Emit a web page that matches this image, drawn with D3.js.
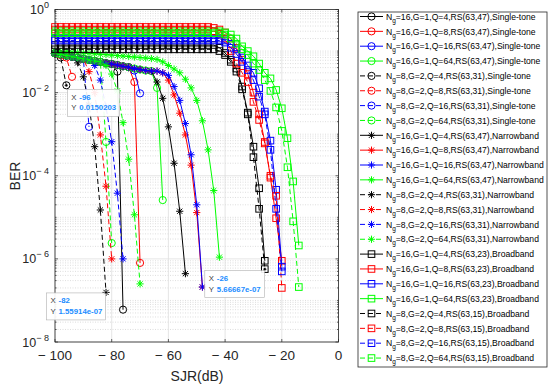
<!DOCTYPE html>
<html>
<head>
<meta charset="utf-8">
<script src="https://cdn.jsdelivr.net/npm/d3@7"></script>
<style>
body { margin: 0; background: #fff; }
svg { font-family: "Liberation Sans", Arial, sans-serif; }
</style>
</head>
<body>
<svg id="chart" width="550" height="388"></svg>
<script>
// SJR grid in dB (every series starts at -100 and runs as long as its BER array)
const sjr = [-100,-98,-96,-94,-92,-90,-88,-86,-84,-82,-80,-78,-76,-74,-72,-70,-68,-66,-64,-62,
             -60,-58,-56,-54,-52,-50,-48,-46,-44,-42,-40,-38,-36,-34,-32,-30,-28,-26,-24,-22,
             -20,-18,-16,-14];

// Single-tone jamming
const st16_q4  = [0.088,0.083,0.078,0.073,0.069,0.065,0.061,0.058,0.055,0.051,0.049,0.032,6e-8];
const st16_q8  = [0.088,0.083,0.078,0.073,0.069,0.065,0.061,0.058,0.055,0.051,0.049,0.046,0.043,0.041,0.018,8e-7];
const st16_q16 = [0.088,0.083,0.078,0.073,0.069,0.065,0.061,0.058,0.055,0.051,0.049,0.046,0.043,0.041,0.034,0.0096];
const st16_q64 = [0.088,0.083,0.078,0.073,0.069,0.065,0.061,0.058,0.055,0.051,0.049,0.046,0.043,0.041,0.038,0.036,0.034,0.033,0.013,2.6e-5];
const st8_q4   = [0.088,0.07,0.0150203];
const st8_q8   = [0.088,0.08,0.07,0.024];
const st8_q16  = [0.088,0.083,0.078,0.073,0.069,0.065,1.5e-3];
const st8_q64  = [0.088,0.083,0.078,0.073,0.069,0.065,0.061,0.058,0.055,6.5e-4,2.4e-6];

// Narrowband jamming
const nb16_q4  = [0.088,0.083,0.078,0.073,0.069,0.065,0.061,0.058,0.055,0.051,0.049,0.046,0.043,0.041,0.038,0.036,0.034,0.033,
                  0.018,7.3e-3,1.5e-3,2e-4,1.4e-5,4.4e-7];
const nb16_q8  = [0.088,0.083,0.078,0.073,0.069,0.065,0.061,0.058,0.055,0.051,0.049,0.046,0.043,0.041,0.038,0.036,0.034,0.033,
                  0.033,0.03,0.02,0.0088,3.2e-3,9.6e-4,1.8e-4,1.3e-5,2.1e-7];
const nb16_q16 = [0.088,0.083,0.078,0.073,0.069,0.065,0.061,0.058,0.055,0.051,0.049,0.046,0.043,0.041,0.038,0.036,0.034,0.033,
                  0.033,0.03,0.026,0.014,6.5e-3,1.8e-3,3.2e-4,2e-5,2.1e-7];
const nb16_q64 = [0.1,0.098,0.096,0.094,0.092,0.09,0.088,0.086,0.084,0.082,0.08,0.078,0.076,0.074,0.072,0.07,0.068,0.066,
                  0.063,0.055,0.045,0.037,0.03,0.021,0.013,6.5e-3,2.1e-3,4.2e-4,4.4e-5,1.1e-6];
const nb8_q4   = [0.088,0.083,0.078,0.073,0.052,0.024,5e-3,5e-4,1.5e-5,1.55914e-7];
const nb8_q8   = [0.088,0.083,0.078,0.073,0.069,0.065,0.032,0.01,9.6e-4,5.6e-5,1e-6];
const nb8_q16  = [0.088,0.083,0.078,0.073,0.069,0.065,0.061,0.045,0.02,4.5e-3,6.6e-4,3.8e-5,1e-6];
const nb8_q64  = [0.088,0.083,0.078,0.073,0.069,0.065,0.061,0.058,0.055,0.045,0.028,0.011,1.9e-3,2.5e-4,1.15e-5,2.5e-7];

// Broadband jamming
const bb16_q4  = [0.14,0.14,0.14,0.14,0.14,0.14,0.14,0.14,0.14,0.14,
                  0.14,0.14,0.14,0.14,0.14,0.14,0.14,0.14,0.14,0.14,
                  0.14,0.14,0.14,0.14,0.14,0.14,0.14,0.14,0.14,
                  0.12,0.09,0.062,0.038,0.014,3.3e-3,5e-4,5e-5,9e-7];
const bb16_q8  = [0.38,0.38,0.38,0.38,0.38,0.38,0.38,0.38,0.38,0.38,
                  0.38,0.38,0.38,0.38,0.38,0.38,0.38,0.38,0.38,0.38,
                  0.38,0.38,0.38,0.38,0.38,0.38,0.38,0.38,
                  0.36,0.33,0.28,0.2,0.12,0.062,0.028,0.01,3e-3,6.5e-4,9e-5,9.5e-6,9e-7];
const bb16_q16 = [0.2,0.2,0.2,0.2,0.2,0.2,0.2,0.2,0.2,0.2,
                  0.2,0.2,0.2,0.2,0.2,0.2,0.2,0.2,0.2,0.2,
                  0.2,0.2,0.2,0.2,0.2,0.2,0.2,0.2,0.2,0.2,
                  0.18,0.15,0.11,0.07,0.045,0.03,0.0127,3.5e-3,7e-4,4.6e-5,6.5e-7];
const bb16_q64 = [0.3,0.3,0.3,0.3,0.3,0.3,0.3,0.3,0.3,0.3,
                  0.3,0.3,0.3,0.3,0.3,0.3,0.3,0.3,0.3,0.3,
                  0.3,0.3,0.3,0.3,0.3,0.3,0.3,0.3,0.3,0.3,
                  0.28,0.25,0.2,0.13,0.1,0.075,0.05,0.03,0.022,0.0116,4.2e-3,8e-4,7.3e-5,2.1e-6];
const bb8_q4   = [0.11,0.11,0.11,0.11,0.11,0.11,0.11,0.11,0.11,0.11,
                  0.11,0.11,0.11,0.11,0.11,0.11,0.11,0.11,0.11,0.11,
                  0.11,0.11,0.11,0.11,0.11,0.11,0.11,0.11,0.11,
                  0.1,0.08,0.055,0.032,0.012,3e-3,2.8e-4,1.6e-5,5.66667e-7];
const bb8_q8   = [0.33,0.33,0.33,0.33,0.33,0.33,0.33,0.33,0.33,0.33,
                  0.33,0.33,0.33,0.33,0.33,0.33,0.33,0.33,0.33,0.33,
                  0.33,0.33,0.33,0.33,0.33,0.33,0.33,0.33,
                  0.3,0.26,0.2,0.1,0.05,0.03,0.018,6e-3,2.2e-3,6e-4,1e-4,3.3e-5,2e-7];
const bb8_q16  = [0.18,0.18,0.18,0.18,0.18,0.18,0.18,0.18,0.18,0.18,
                  0.18,0.18,0.18,0.18,0.18,0.18,0.18,0.18,0.18,0.18,
                  0.18,0.18,0.18,0.18,0.18,0.18,0.18,0.18,0.18,0.18,
                  0.16,0.12,0.085,0.055,0.035,0.02,8e-3,3e-3,4.2e-4,1.6e-5,5e-7];
const bb8_q64  = [0.27,0.27,0.27,0.27,0.27,0.27,0.27,0.27,0.27,0.27,
                  0.27,0.27,0.27,0.27,0.27,0.27,0.27,0.27,0.27,0.27,
                  0.27,0.27,0.27,0.27,0.27,0.27,0.27,0.27,0.27,0.27,
                  0.25,0.2,0.15,0.11,0.08,0.05,0.035,0.02,0.011,4.4e-3,1.2e-3,1.6e-4,8e-6,2.1e-7];

// legend labels (text after "N" with subscript "g")
const labels = [
  "=16,G=1,Q=4,RS(63,47),Single-tone", "=16,G=1,Q=8,RS(63,47),Single-tone",
  "=16,G=1,Q=16,RS(63,47),Single-tone", "=16,G=1,Q=64,RS(63,47),Single-tone",
  "=8,G=2,Q=4,RS(63,31),Single-tone", "=8,G=2,Q=8,RS(63,31),Single-tone",
  "=8,G=2,Q=16,RS(63,31),Single-tone", "=8,G=2,Q=64,RS(63,31),Single-tone",
  "=16,G=1,Q=4,RS(63,47),Narrowband", "=16,G=1,Q=8,RS(63,47),Narrowband",
  "=16,G=1,Q=16,RS(63,47),Narrowband", "=16,G=1,Q=64,RS(63,47),Narrowband",
  "=8,G=2,Q=4,RS(63,31),Narrowband", "=8,G=2,Q=8,RS(63,31),Narrowband",
  "=8,G=2,Q=16,RS(63,31),Narrowband", "=8,G=2,Q=64,RS(63,31),Narrowband",
  "=16,G=1,Q=4,RS(63,23),Broadband", "=16,G=1,Q=8,RS(63,23),Broadband",
  "=16,G=1,Q=16,RS(63,23),Broadband", "=16,G=1,Q=64,RS(63,23),Broadband",
  "=8,G=2,Q=4,RS(63,15),Broadband", "=8,G=2,Q=8,RS(63,15),Broadband",
  "=8,G=2,Q=16,RS(63,15),Broadband", "=8,G=2,Q=64,RS(63,15),Broadband"
];

// data tips shown in the figure
const tipX = [-96, -82, -26];
const tipY = [0.0150203, 1.55914e-07, 5.66667e-07];
const tipYText = ["0.0150203", "1.55914e-07", "5.66667e-07"];

const xTicks = [-100, -80, -60, -40, -20, 0];
const yTickExp = [0, -2, -4, -6, -8];

const colors = ["#000000", "#ff0000", "#0000ff", "#00ff00"];
const berSets = [st16_q4, st16_q8, st16_q16, st16_q64, st8_q4, st8_q8, st8_q16, st8_q64,
                 nb16_q4, nb16_q8, nb16_q16, nb16_q64, nb8_q4, nb8_q8, nb8_q16, nb8_q64,
                 bb16_q4, bb16_q8, bb16_q16, bb16_q64, bb8_q4, bb8_q8, bb8_q16, bb8_q64];
const markerTypes = ["circle", "star", "square"];

const series = berSets.map((ber, i) => ({
  label: labels[i],
  color: colors[i % 4],
  dashed: Math.floor(i / 4) % 2 === 1,
  marker: markerTypes[Math.floor(i / 8)],
  points: ber.map((b, j) => ({ x: sjr[j], y: b }))
}));

const svg = d3.select("#chart");
const plotL = 55, plotR = 338.5, plotT = 9.5, plotB = 342;

const x = d3.scaleLinear().domain([-100, 0]).range([plotL, plotR]);
const y = d3.scaleLog().domain([1e-8, 1]).range([plotB, plotT]);

// grid
const grid = svg.append("g");
for (let e = -8; e < 0; e++) {
  for (let k = 1; k <= 9; k++) {
    const v = k * Math.pow(10, e);
    if (k === 1 && e % 2 === 0) continue;
    grid.append("line")
      .attr("x1", plotL).attr("x2", plotR)
      .attr("y1", y(v)).attr("y2", y(v))
      .attr("stroke", "#c8c8c8").attr("stroke-width", 0.6)
      .attr("stroke-dasharray", "1,1.5");
  }
}
yTickExp.forEach(e => {
  grid.append("line")
    .attr("x1", plotL).attr("x2", plotR)
    .attr("y1", y(Math.pow(10, e))).attr("y2", y(Math.pow(10, e)))
    .attr("stroke", "#dedede").attr("stroke-width", 0.8);
});
xTicks.forEach(t => {
  grid.append("line")
    .attr("x1", x(t)).attr("x2", x(t))
    .attr("y1", plotT).attr("y2", plotB)
    .attr("stroke", "#dedede").attr("stroke-width", 0.8);
});

// curves
const line = d3.line().x(d => x(d.x)).y(d => y(d.y));
const starPath = "M-3.6,0L3.6,0M0,-3.6L0,3.6M-2.6,-2.6L2.6,2.6M-2.6,2.6L2.6,-2.6";

function drawMarker(g, type, color) {
  if (type === "circle") {
    g.append("circle").attr("r", 3.6).attr("fill", "none")
      .attr("stroke", color).attr("stroke-width", 1);
  } else if (type === "square") {
    g.append("rect").attr("x", -3.3).attr("y", -3.3).attr("width", 6.6).attr("height", 6.6)
      .attr("fill", "none").attr("stroke", color).attr("stroke-width", 1);
  } else {
    g.append("path").attr("d", starPath).attr("fill", "none")
      .attr("stroke", color).attr("stroke-width", 1);
  }
}

const plot = svg.append("g");
series.forEach(s => {
  const g = plot.append("g");
  g.append("path")
    .attr("d", line(s.points))
    .attr("fill", "none")
    .attr("stroke", s.color)
    .attr("stroke-width", 1)
    .attr("stroke-dasharray", s.dashed ? "5,3" : null);
  s.points.forEach(p => {
    const m = g.append("g").attr("transform", `translate(${x(p.x)},${y(p.y)})`);
    drawMarker(m, s.marker, s.color);
  });
});

// frame and ticks
const axisColor = "#262626";
svg.append("rect")
  .attr("x", plotL).attr("y", plotT)
  .attr("width", plotR - plotL).attr("height", plotB - plotT)
  .attr("fill", "none").attr("stroke", axisColor).attr("stroke-width", 0.8);

const ticks = svg.append("g").attr("stroke", axisColor).attr("stroke-width", 0.7);
xTicks.forEach(t => {
  ticks.append("line").attr("x1", x(t)).attr("x2", x(t)).attr("y1", plotB).attr("y2", plotB - 3);
  ticks.append("line").attr("x1", x(t)).attr("x2", x(t)).attr("y1", plotT).attr("y2", plotT + 3);
});
for (let e = -8; e <= 0; e++) {
  for (let k = 1; k <= 9; k++) {
    if (e === 0 && k > 1) continue;
    const v = k * Math.pow(10, e);
    const len = (k === 1 && e % 2 === 0) ? 3 : 1.6;
    ticks.append("line").attr("x1", plotL).attr("x2", plotL + len).attr("y1", y(v)).attr("y2", y(v));
    ticks.append("line").attr("x1", plotR).attr("x2", plotR - len).attr("y1", y(v)).attr("y2", y(v));
  }
}

// tick labels
xTicks.forEach(t => {
  svg.append("text")
    .attr("x", x(t)).attr("y", 360)
    .attr("text-anchor", "middle")
    .attr("font-size", 13.5).attr("fill", axisColor)
    .text(t < 0 ? "\u2212 " + Math.abs(t) : String(t));
});
yTickExp.forEach(e => {
  const txt = svg.append("text")
    .attr("x", 49).attr("y", y(Math.pow(10, e)) + 4.5)
    .attr("text-anchor", "end")
    .attr("font-size", 12.5).attr("fill", axisColor);
  txt.append("tspan").text("10");
  txt.append("tspan").attr("dy", -6).attr("font-size", 9)
    .text(e < 0 ? "\u2212 " + Math.abs(e) : String(e));
});

// axis titles
svg.append("text")
  .attr("x", 197).attr("y", 381)
  .attr("text-anchor", "middle").attr("font-size", 14).attr("fill", axisColor)
  .text("SJR(dB)");
svg.append("text")
  .attr("transform", "translate(20,176) rotate(-90)")
  .attr("text-anchor", "middle").attr("font-size", 14).attr("fill", axisColor)
  .text("BER");

// data tips
const tipBoxes = [
  { dx: 1, dy: 4, w: 52 },
  { dx: -59.5, dy: 0.5, w: 59 },
  { dx: -60, dy: 1.5, w: 59.5 }
];
tipX.forEach((tx, i) => {
  const px = x(tx), py = y(tipY[i]);
  const b = tipBoxes[i];
  const g = svg.append("g").attr("transform", `translate(${px + b.dx},${py + b.dy})`);
  g.append("rect").attr("width", b.w).attr("height", 27)
    .attr("fill", "#ffffff").attr("fill-opacity", 0.92)
    .attr("stroke", "#b0b0b0").attr("stroke-width", 0.6);
  const rows = [["X", String(tx)], ["Y", tipYText[i]]];
  rows.forEach((r, k) => {
    const t = g.append("text").attr("x", 4).attr("y", 10.5 + k * 10.5).attr("font-size", 7.8);
    t.append("tspan").attr("fill", "#404040").text(r[0] + " ");
    t.append("tspan").attr("fill", "#1a8cff").attr("font-weight", "bold").attr("x", 12).text(r[1]);
  });
  svg.append("circle").attr("cx", px).attr("cy", py).attr("r", 1.6)
    .attr("fill", "#000").attr("stroke", "#fff").attr("stroke-width", 0.5);
});

// legend
const lg = svg.append("g");
lg.append("rect")
  .attr("x", 358).attr("y", 12).attr("width", 189).attr("height", 355)
  .attr("fill", "#fff").attr("stroke", axisColor).attr("stroke-width", 0.8);
series.forEach((s, i) => {
  const cy = 16.5 + i * 14.85;
  const g = lg.append("g");
  g.append("line")
    .attr("x1", 360).attr("x2", 383).attr("y1", cy).attr("y2", cy)
    .attr("stroke", s.color).attr("stroke-width", 1)
    .attr("stroke-dasharray", s.dashed ? "5,3" : null);
  drawMarker(g.append("g").attr("transform", `translate(371.5,${cy})`), s.marker, s.color);
  const t = g.append("text")
    .attr("x", 386).attr("y", cy + 3.2)
    .attr("font-size", 8.6).attr("fill", "#000");
  t.append("tspan").text("N");
  t.append("tspan").attr("dy", 3).attr("font-size", 6.5).text("g");
  t.append("tspan").attr("dy", -3).text(s.label);
});
</script>
</body>
</html>
